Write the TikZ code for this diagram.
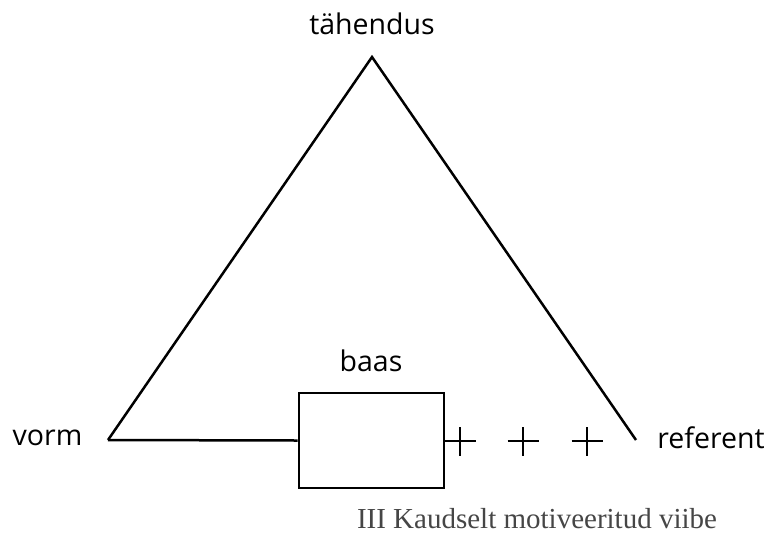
\documentclass[tikz,border=0pt]{standalone}
\usepackage{fontspec}
\setmainfont{Liberation Serif}
\newfontfamily\labfont{Open Sans}
\definecolor{capgray}{RGB}{70,70,70}
\begin{document}
\begin{tikzpicture}[x=1pt,y=-1pt,
  lab/.style={font=\labfont\fontsize{28.5}{32}\selectfont, inner sep=0pt},
  edge/.style={line width=2.5pt},
  boxst/.style={draw, line width=2.8pt, minimum width=145pt, minimum height=95pt, inner sep=0pt},
  plusst/.style={line width=2.5pt}]
\useasboundingbox (0,0) rectangle (766,542);
\coordinate (A) at (372,57);
\coordinate (L) at (108,440);
\coordinate (R) at (636,440);
\node[boxst] (box) at (371.5,440.5) {};
\node[lab] (tah) at (372,24) {tähendus};
\node[lab] (vorm) at (47.5,438) {vorm};
\node[lab] (ref) at (711,438) {referent};
\node[lab] (baas) at (371,361) {baas};
\node[font=\fontsize{29}{34}\selectfont, text=capgray, inner sep=0pt] (cap) at (537,519) {III Kaudselt motiveeritud viibe};
\draw[edge, line join=miter] (L) -- (A) -- (R);
\draw[edge] (L) -- (box.west);
\foreach \n/\x in {p1/460, p2/523, p3/587} {
  \coordinate (\n) at (\x,441);
  \draw[plusst] ([xshift=-15.5pt]\n) -- ([xshift=15.5pt]\n);
  \draw[plusst] ([yshift=-14.5pt]\n) -- ([yshift=14.5pt]\n);
}
\end{tikzpicture}
\end{document}
